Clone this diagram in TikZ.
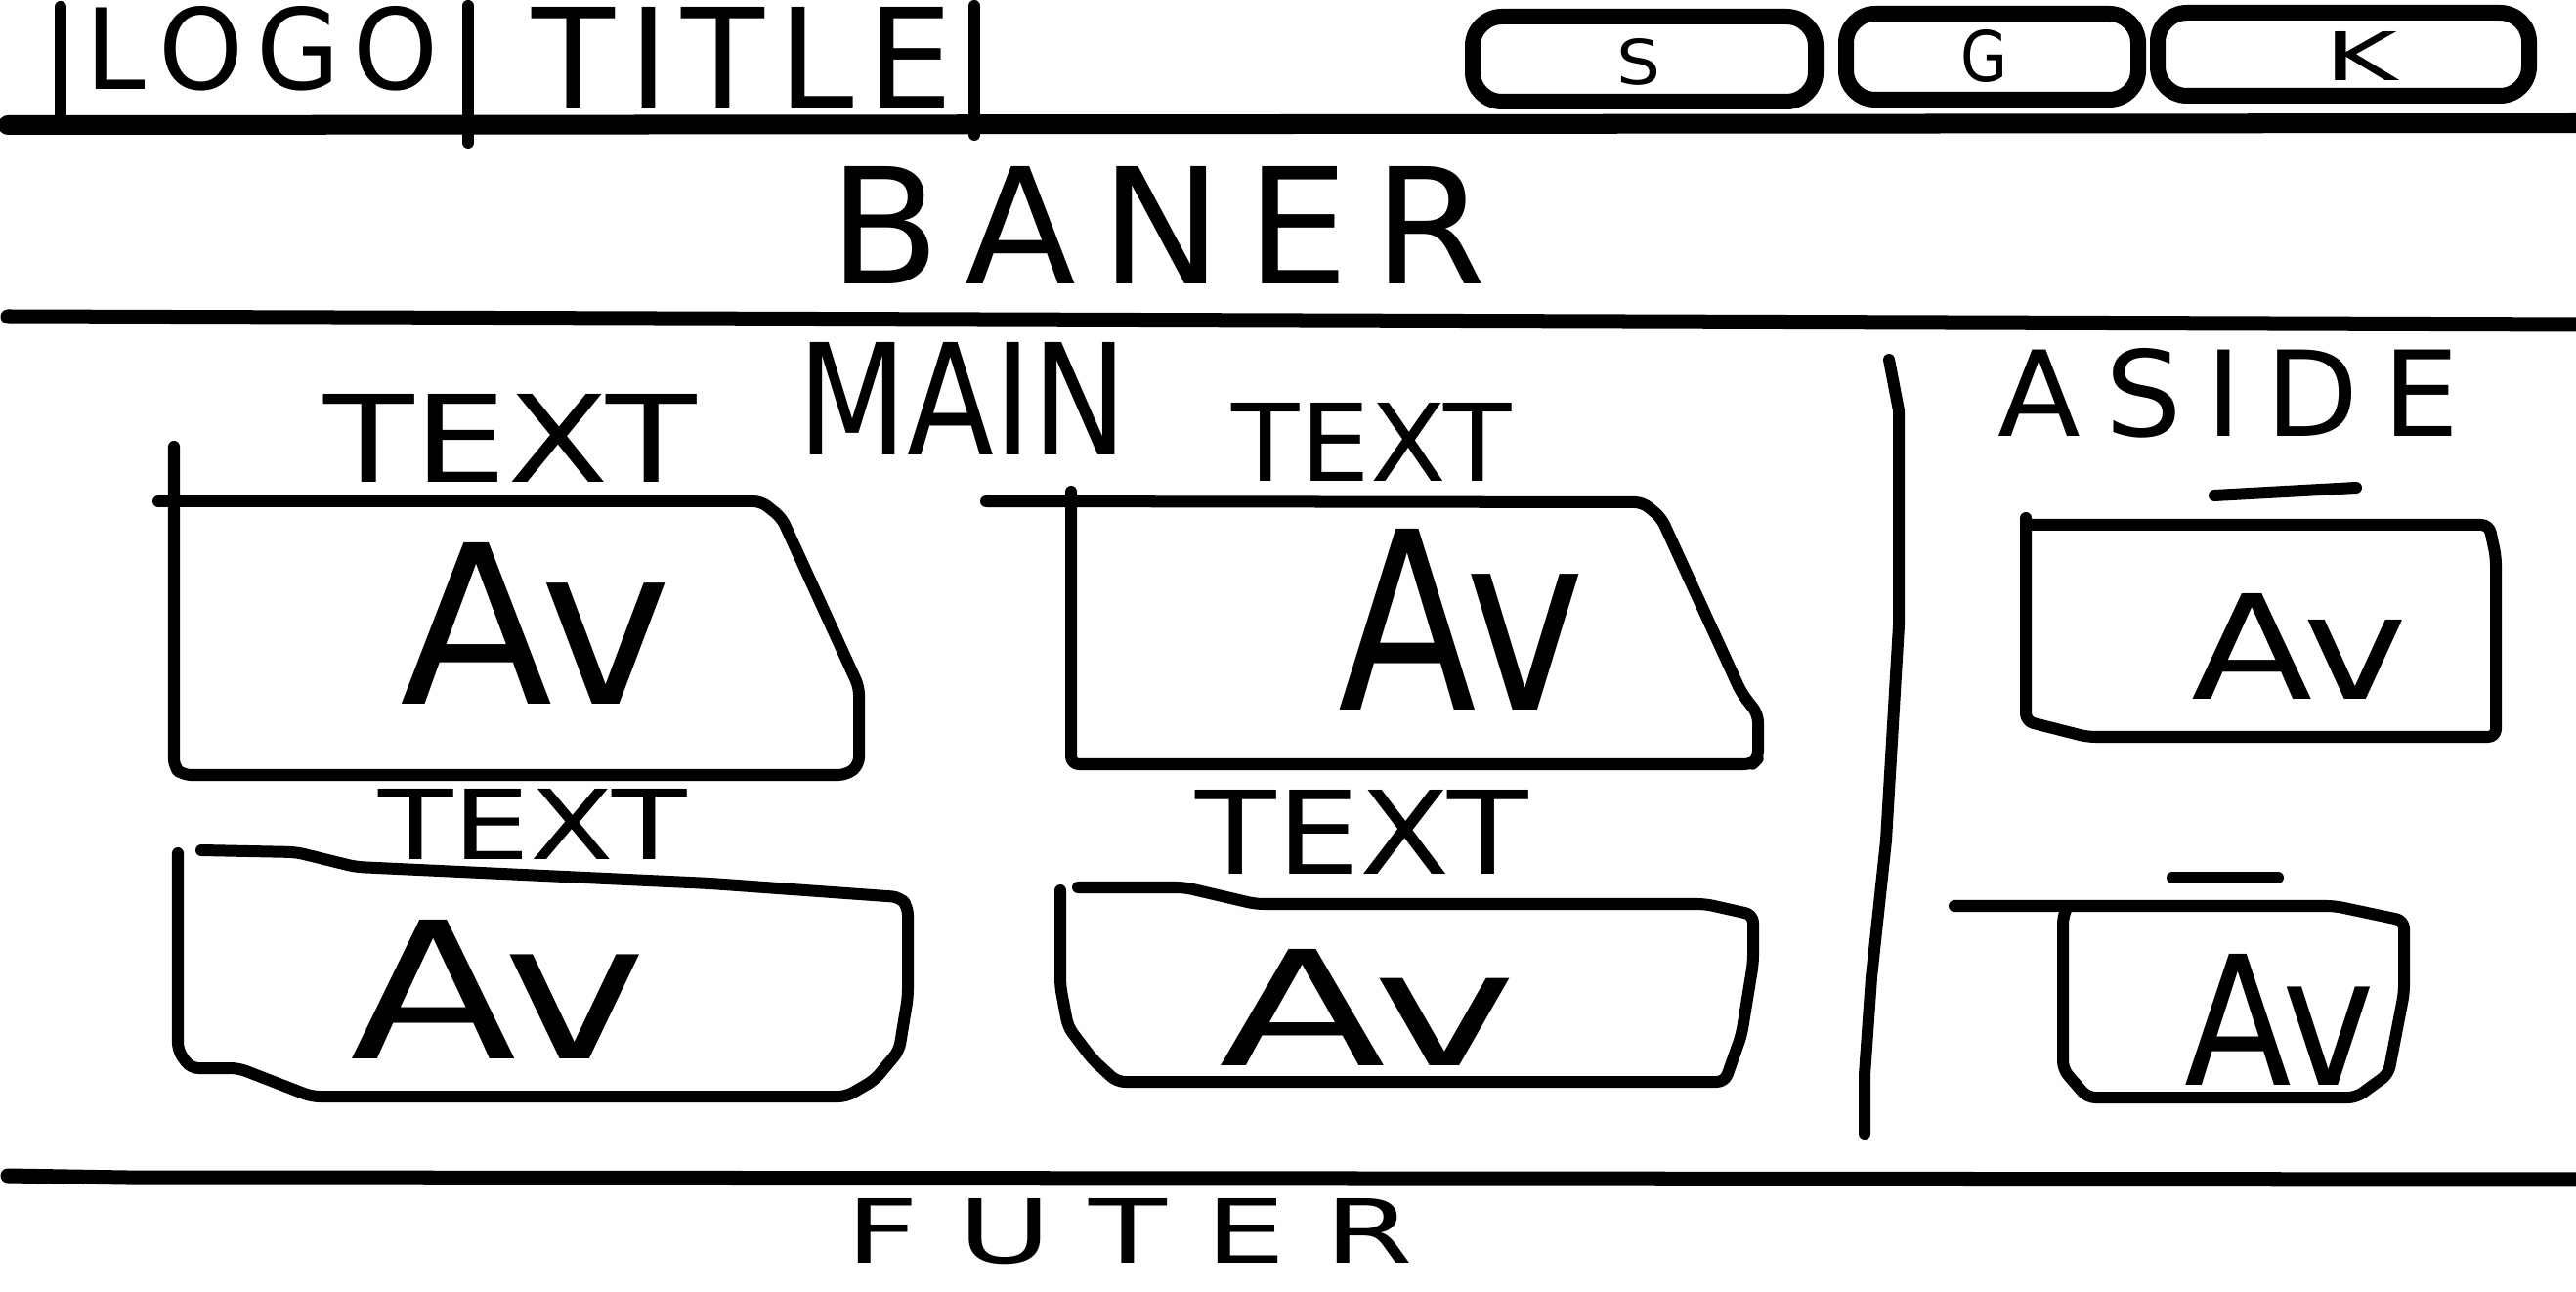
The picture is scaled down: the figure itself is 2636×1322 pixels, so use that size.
\documentclass[tikz,border=0pt]{standalone}
\usepackage{graphicx}
\usepackage{fontspec}
\setmainfont{DejaVu Sans}
\newcommand\fitt[3]{\resizebox{#1cm}{#2cm}{#3}}
\begin{document}
\begin{tikzpicture}[x=0.01cm,y=-0.01cm,
  ln/.style={line width=0.12cm, line cap=round, line join=round},
  hdr/.style={line width=0.2cm, line cap=round},
  sep/.style={line width=0.15cm, line cap=round},
  btn/.style={line width=0.16cm, rounded corners=0.3cm},
  bx/.style={line width=0.12cm, line cap=round, line join=round, rounded corners=0.08cm},
  lbl/.style={inner sep=0pt, anchor=center}]
\useasboundingbox (0,0) rectangle (2636,1322);
% header
\draw[hdr] (8,128) -- (2650,126);
\draw[ln] (62,7) -- (62,118);
\draw[ln] (479,6) -- (479,146);
\draw[ln] (997,6) -- (997,138);
\node[lbl] (logo) at (268,50) {\fitt{3.61}{0.85}{L\kern.12em O\kern.12em G\kern.12em O}};
\node[lbl] (title) at (760,59) {\fitt{4.31}{1.03}{T\kern.1em I\kern.1em T\kern.1em L\kern.1em E}};
\draw[btn] (1507,17) rectangle (1858,104);
\draw[btn] (1889,14) rectangle (2188,102);
\draw[btn] (2208,13) rectangle (2588,98);
\node[lbl] (b1) at (1677,63) {\fitt{0.45}{0.47}{S}};
\node[lbl] (b2) at (2030,58) {\fitt{0.48}{0.53}{G}};
\node[lbl] (b3) at (2416,57) {\fitt{0.75}{0.50}{K}};
% banner
\draw[sep] (8,324) -- (2650,332);
\node[lbl] (baner) at (1185,230) {\fitt{6.72}{1.20}{B\kern.15em A\kern.15em N\kern.15em E\kern.15em R}};
% main
\node[lbl] (main) at (985,408) {\fitt{3.36}{1.15}{MAIN}};
% box 1
\node[lbl] (t1) at (522,448) {\fitt{3.81}{0.90}{TEXT}};
\draw[bx] (178,457) -- (178,785) -- (187,793) -- (866,793) -- (879,783) -- (879,703) -- (800,530) -- (779,513) -- (162,513);
\node[lbl] (a1) at (549,638) {\fitt{2.78}{1.65}{Av}};
% box 2
\node[lbl] (t2) at (1404,452) {\fitt{2.86}{0.80}{TEXT}};
\draw[bx] (1096,503) -- (1096,782) -- (1793,782) -- (1799,776) -- (1799,731) -- (1782,709) -- (1700,530) -- (1681,514) -- (1009,513);
\node[lbl] (a2) at (1496,634) {\fitt{2.52}{1.85}{Av}};
% box 3
\node[lbl] (t3) at (545,843) {\fitt{3.15}{0.72}{TEXT}};
\draw[bx] (206,870) -- (303,872) -- (364,887) -- (727,904) -- (921,918) -- (929,928) -- (929,1020) -- (920,1075) -- (895,1105) -- (866,1122) -- (319,1122) -- (244,1093) -- (195,1093) -- (182,1075) -- (182,873);
\node[lbl] (a3) at (510,1012) {\fitt{3.03}{1.42}{Av}};
% box 4
\node[lbl] (t4) at (1394,851) {\fitt{3.40}{0.86}{TEXT}};
\draw[bx] (1103,908) -- (1212,908) -- (1285,925) -- (1745,925) -- (1794,936) -- (1794,985) -- (1782,1059) -- (1765,1107) -- (1143,1107) -- (1118,1084) -- (1093,1051) -- (1085,1009) -- (1085,911);
\node[lbl] (a4) at (1400,1031) {\fitt{3.04}{1.19}{Av}};
% aside
\draw[ln] (1933,368) -- (1943,420) -- (1943,640) -- (1930,860) -- (1915,1000) -- (1908,1100) -- (1908,1160);
\node[lbl] (aside) at (2281,402) {\fitt{4.72}{0.90}{A\kern.2em S\kern.2em I\kern.2em D\kern.2em E}};
\draw[ln] (2266,507) -- (2411,499);
\draw[bx] (2073,530) -- (2073,738) -- (2136,754) -- (2554,754) -- (2554,570) -- (2547,537) -- (2073,537);
\node[lbl] (a5) at (2353,661) {\fitt{2.21}{1.08}{Av}};
\draw[ln] (2223,898) -- (2331,898);
\draw[bx] (2000,927) -- (2389,927) -- (2460,942) -- (2460,1016) -- (2444,1099) -- (2411,1123) -- (2136,1123) -- (2111,1094) -- (2111,937) -- (2116,927);
\node[lbl] (a6) at (2333,1043) {\fitt{1.95}{1.34}{Av}};
% footer
\draw[sep] (8,1203) -- (130,1205) -- (2650,1207);
\node[lbl] (footer) at (1156,1260) {\fitt{5.80}{0.66}{F\kern.3em U\kern.3em T\kern.3em E\kern.3em R}};
\end{tikzpicture}
\end{document}
